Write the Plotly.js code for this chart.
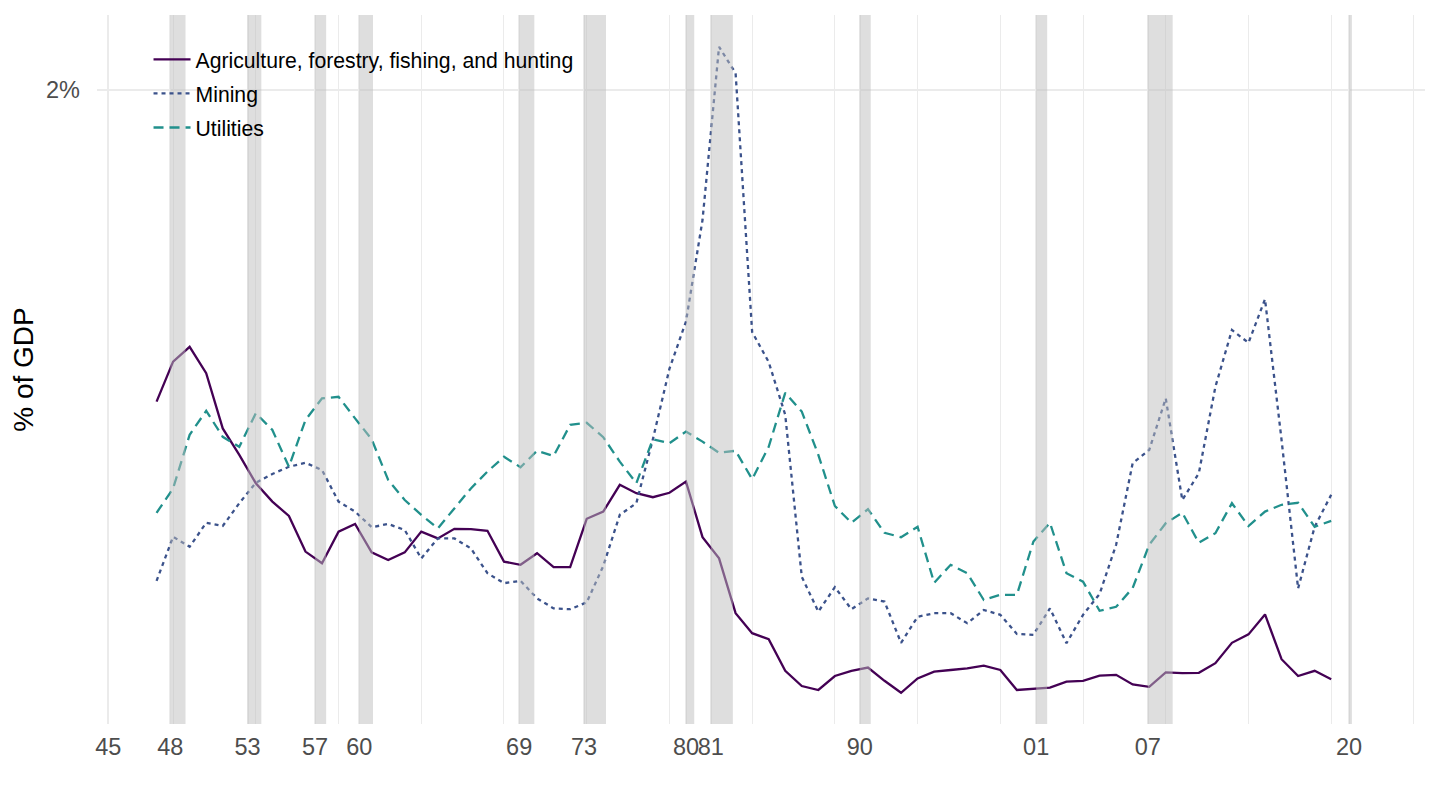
<!DOCTYPE html>
<html><head><meta charset="utf-8">
<script src="https://cdn.plot.ly/plotly-3.0.1.min.js"></script>
<style>html,body{margin:0;padding:0;background:#fff}#chart{width:1440px;height:810px}</style>
</head><body><div id="chart"></div>
<script>
const years = [1948,1949,1950,1951,1952,1953,1954,1955,1956,1957,1958,1959,1960,1961,1962,1963,1964,1965,1966,1967,1968,1969,1970,1971,1972,1973,1974,1975,1976,1977,1978,1979,1980,1981,1982,1983,1984,1985,1986,1987,1988,1989,1990,1991,1992,1993,1994,1995,1996,1997,1998,1999,2000,2001,2002,2003,2004,2005,2006,2007,2008,2009,2010,2011,2012,2013,2014,2015,2016,2017,2018,2019];

// % of GDP
const agriculture = [1.221,1.321,1.358,1.292,1.154,1.088,1.017,0.971,0.935,0.846,0.817,0.896,0.915,0.844,0.825,0.844,0.896,0.879,0.903,0.902,0.898,0.821,0.813,0.842,0.807,0.807,0.928,0.946,1.013,0.992,0.982,0.993,1.021,0.882,0.829,0.692,0.642,0.627,0.548,0.510,0.500,0.535,0.548,0.556,0.523,0.493,0.529,0.546,0.550,0.554,0.561,0.550,0.500,0.503,0.506,0.521,0.523,0.536,0.538,0.514,0.508,0.544,0.542,0.543,0.567,0.618,0.639,0.689,0.577,0.535,0.548,0.527];
const mining = [0.773,0.883,0.858,0.918,0.910,0.967,1.018,1.040,1.058,1.068,1.050,0.971,0.946,0.907,0.915,0.900,0.829,0.879,0.879,0.854,0.792,0.767,0.773,0.729,0.704,0.702,0.719,0.810,0.938,0.967,1.127,1.303,1.421,1.675,2.108,2.042,1.395,1.320,1.188,0.783,0.696,0.757,0.702,0.729,0.721,0.618,0.683,0.692,0.692,0.667,0.700,0.688,0.640,0.638,0.704,0.617,0.688,0.740,0.863,1.067,1.100,1.229,0.975,1.042,1.258,1.400,1.368,1.477,1.125,0.754,0.908,0.988];
const utilities = [0.943,1.004,1.138,1.198,1.133,1.108,1.192,1.150,1.058,1.175,1.229,1.233,1.179,1.127,1.025,0.975,0.938,0.904,0.954,1.004,1.046,1.083,1.057,1.098,1.085,1.163,1.168,1.132,1.071,1.017,1.127,1.117,1.146,1.121,1.093,1.098,1.027,1.108,1.243,1.196,1.088,0.960,0.918,0.952,0.893,0.882,0.908,0.768,0.813,0.792,0.725,0.738,0.738,0.871,0.918,0.792,0.771,0.698,0.708,0.755,0.863,0.917,0.943,0.868,0.892,0.967,0.910,0.946,0.963,0.968,0.908,0.923];

const seriesNames = ["Agriculture, forestry, fishing, and hunting", "Mining", "Utilities"];

// NBER recessions (decimal years)
const recessionStart = [1948.833,1953.5,1957.583,1960.25,1969.917,1973.833,1980.0,1981.5,1990.5,2001.167,2007.917,2020.083];
const recessionEnd   = [1949.75,1954.333,1958.25,1961.083,1970.833,1975.167,1980.5,1982.833,1991.167,2001.833,2009.417,2020.25];

// x-axis ticks: recession start dates
const tickValues = [1945.083,1948.833,1953.5,1957.583,1960.25,1969.917,1973.833,1980.0,1981.5,1990.5,2001.167,2007.917,2020.083];
const tickLabels = ["45","48","53","57","60","69","73","80","81","90","01","07","20"];

const yTickValues = [2];
const yTickLabels = ["2%"];

const colors = ["#440154", "#3B528B", "#21908C"];
const dashes = ["solid", "4px,4px", "10px,6px"];
const seriesData = [agriculture, mining, utilities];

const traces = seriesData.map((vals, i) => ({
  type: "scatter", mode: "lines", x: years, y: vals, name: seriesNames[i],
  legendgroup: "g" + i,
  line: {color: colors[i], width: 2.3, dash: dashes[i]},
  hoverinfo: "x+y+name"
}));

const minorVals = [];
for (let y = 1949; y <= 2024; y += 5) minorVals.push(y);

const shapes = recessionStart.map((s, i) => ({
  type: "rect", xref: "x", yref: "paper", x0: s, x1: recessionEnd[i], y0: 0, y1: 1,
  fillcolor: "#BEBEBE", opacity: 0.5, line: {width: 0}, layer: "above"
}));

const font = "Liberation Sans, Arial, Helvetica, sans-serif";

const layout = {
  width: 1440, height: 810,
  margin: {l: 97, r: 15, t: 15, b: 86},
  paper_bgcolor: "#fff", plot_bgcolor: "#fff",
  font: {family: font, color: "#4D4D4D"},
  showlegend: true,
  legend: {x: 0.0388, y: 0.966, xanchor: "left", yanchor: "top", bgcolor: "rgba(0,0,0,0)",
           font: {family: font, size: 21.2, color: "#000"}, tracegroupgap: 3.5, itemwidth: 37},
  xaxis: {
    range: [1944.40, 2024.67], tickmode: "array", tickvals: tickValues, ticktext: tickLabels,
    tickangle: 0,
    showgrid: true, gridcolor: "#EBEBEB", gridwidth: 2, zeroline: false, showline: false,
    ticks: "", ticklabelstandoff: 6, tickfont: {size: 23.5, color: "#4D4D4D"},
    minor: {tickmode: "array", tickvals: minorVals, showgrid: true, gridcolor: "#EBEBEB", gridwidth: 1, ticks: ""}
  },
  yaxis: {
    range: [0.415, 2.1875], tickmode: "array", tickvals: yTickValues, ticktext: yTickLabels,
    showgrid: true, gridcolor: "#EBEBEB", gridwidth: 2, zeroline: false, showline: false,
    ticks: "", ticklabelstandoff: 16, tickfont: {size: 23.5, color: "#4D4D4D"},
    title: {text: "% of GDP", font: {size: 28, color: "#000"}, standoff: 4}
  },
  shapes: shapes
};

Plotly.newPlot("chart", traces, layout, {displayModeBar: false, staticPlot: true});
</script>
</body></html>
